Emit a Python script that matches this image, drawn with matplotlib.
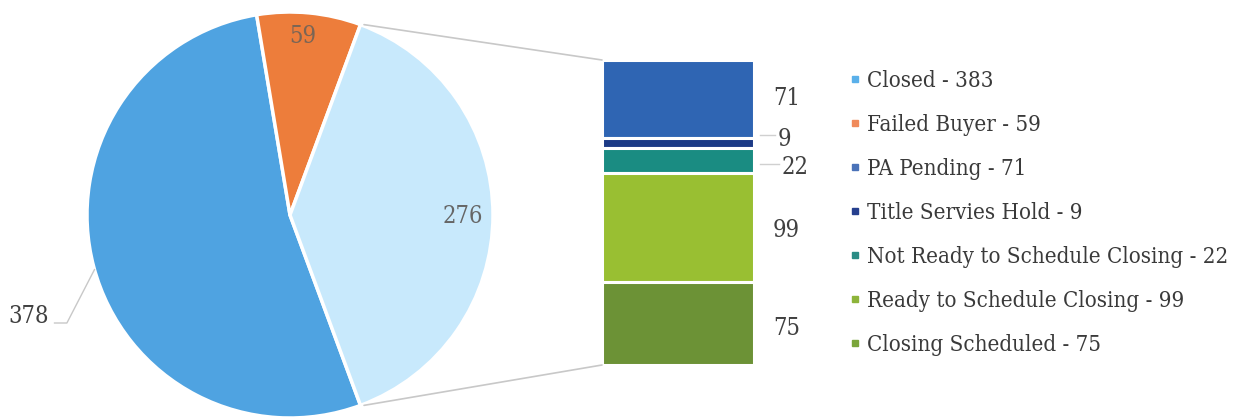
import matplotlib
matplotlib.use("Agg")
import matplotlib.pyplot as plt
from matplotlib.patches import ConnectionPatch
from matplotlib.lines import Line2D
from matplotlib import font_manager
import numpy as np

# ---- data ----
pie_labels = ["Closed", "Failed Buyer", "Other"]
pie_values = [378, 59, 276]
pie_colors = ["#4FA3E1", "#ED7D3B", "#C8E9FC"]

bar_labels = ["PA Pending", "Title Servies Hold", "Not Ready to Schedule Closing",
              "Ready to Schedule Closing", "Closing Scheduled"]
bar_values = [71, 9, 22, 99, 75]
bar_colors = ["#2F65B3", "#1C3A86", "#1A8C82", "#99BF32", "#6C9236"]

legend_labels = ["Closed - 383", "Failed Buyer - 59", "PA Pending - 71",
                 "Title Servies Hold - 9", "Not Ready to Schedule Closing - 22",
                 "Ready to Schedule Closing - 99", "Closing Scheduled - 75"]
legend_colors = ["#5AB0EA", "#F08A5A", "#4A72B8", "#263F8E", "#2A8C85", "#8DB43A", "#7AA53A"]

# Prefer a condensed DejaVu Serif if present (closest to the Cambria look), else Liberation Serif
cond = [f for f in font_manager.fontManager.ttflist
        if f.name == "DejaVu Serif" and f.stretch == "condensed" and f.style == "normal"
        and f.weight in (400, "normal")]
if cond:
    FP = dict(family="DejaVu Serif", stretch="condensed", size=16)
    FS = 16
    LFS = 17
else:
    FP = dict(family="Liberation Serif", size=18)
    FS = 18
    LFS = 18
TXT = {k: v for k, v in FP.items() if k != "size"}

W, H = 1238, 420
fig = plt.figure(figsize=(W / 100, H / 100), dpi=100)
fig.patch.set_facecolor("white")

# ---- pie ----
cx, cy, r = 290, 205, 203
ax_pie = fig.add_axes([(cx - r) / W, (cy - r) / H, 2 * r / W, 2 * r / H])
other_angle = pie_values[2] / sum(pie_values) * 360
start = -other_angle / 2
wedges, _ = ax_pie.pie(pie_values, colors=pie_colors, startangle=start, counterclock=False,
                       radius=1, wedgeprops=dict(edgecolor="white", linewidth=2.5))
ax_pie.set_xlim(-1, 1)
ax_pie.set_ylim(-1, 1)
ax_pie.set_aspect("equal")
ax_pie.axis("off")

def mid_angle(w):
    return np.deg2rad((w.theta1 + w.theta2) / 2)

# 378 label outside with leader line
ea = np.deg2rad(195.6)
ex, ey = np.cos(ea), np.sin(ea)
ax_pie.plot([ex, -1.099, -1.16], [ey, -0.532, -0.532], color="#C8C8C8", lw=1, clip_on=False)
ax_pie.text(-1.19, -0.50, str(pie_values[0]), ha="right", va="center", fontsize=LFS,
            color="#404040", clip_on=False, **TXT)
# 59 label
a = mid_angle(wedges[1])
ax_pie.text(0.87 * np.cos(a) - 0.02, 0.87 * np.sin(a) + 0.015, str(pie_values[1]),
            ha="center", va="center", fontsize=LFS, color="#7A6555", **TXT)
# 276 label
a = mid_angle(wedges[2])
ax_pie.text(0.85 * np.cos(a), 0.85 * np.sin(a) - 0.005, str(pie_values[2]),
            ha="center", va="center", fontsize=LFS, color="#666666", **TXT)

# ---- stacked bar ----
bx0, bx1, by_top, by_bot = 602, 754, 60, 365
ax_bar = fig.add_axes([bx0 / W, (H - by_bot) / H, (bx1 - bx0) / W, (by_bot - by_top) / H])
total = sum(bar_values)
bottom = total
centers = []
for v, c in zip(bar_values, bar_colors):
    bottom -= v
    ax_bar.bar(0, v, width=1, bottom=bottom, color=c, edgecolor="white", linewidth=2.2)
    centers.append(bottom + v / 2)
ax_bar.set_xlim(-0.5, 0.5)
ax_bar.set_ylim(0, total)
ax_bar.axis("off")

lab_x = [0.625, 0.658, 0.684, 0.625, 0.625]
lab_dy = [2.8, 5.8, -4.2, -0.3, -2.0]
for v, yc, lx, dy in zip(bar_values, centers, lab_x, lab_dy):
    ty = yc + dy
    ax_bar.text(lx, ty, str(v), ha="left", va="center_baseline",
                fontsize=LFS, color="#404040", clip_on=False, **TXT)
    if v < 30:
        ly = ty + 1.5
        ax_bar.plot([0.54, lx - 0.02], [ly, ly], color="#D0D0D0", lw=1, clip_on=False)

# ---- connector lines ----
t1 = np.deg2rad(wedges[2].theta1)
t2 = np.deg2rad(wedges[2].theta2)
for t, yb in [(t2, total), (t1, 0)]:
    con = ConnectionPatch(xyA=(1.05 * np.cos(t), 1.0 * np.sin(t)), coordsA=ax_pie.transData,
                          xyB=(-0.5, yb), coordsB=ax_bar.transData,
                          color="#C8C8C8", lw=1.2)
    fig.add_artist(con)

# ---- legend ----
handles = [Line2D([], [], marker="s", linestyle="none", markersize=4.5,
                  markerfacecolor=c, markeredgecolor=c) for c in legend_colors]
leg = fig.legend(handles, legend_labels, loc="upper left",
                 bbox_to_anchor=(837 / W, 1 - 59 / H), frameon=False,
                 prop=FP, labelspacing=0.88 * 18 / FS,
                 handlelength=0.6, handletextpad=0.23 * 18 / FS, borderpad=0)
for t in leg.get_texts():
    t.set_color("#3A3A3A")

fig.savefig("out.png", dpi=100, facecolor="white")
